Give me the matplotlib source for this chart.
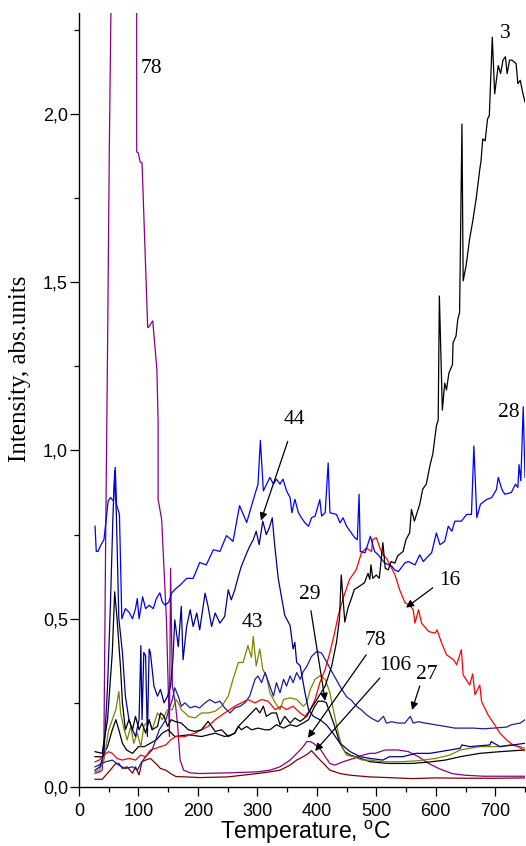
import matplotlib
matplotlib.use('Agg')
import matplotlib.pyplot as plt
from matplotlib.ticker import MultipleLocator, FuncFormatter

plt.rcParams['font.family'] = ['Liberation Sans', 'DejaVu Sans']
plt.rcParams['mathtext.fontset'] = 'custom'
plt.rcParams['mathtext.rm'] = 'Liberation Sans'

# m/z 3 (black)
t_3 = [27, 39, 48, 56, 60, 64, 70, 73, 78, 84, 90, 95, 101, 106, 112, 118, 123, 132, 137, 143, 149, 155,
       161, 172, 184, 195, 206, 217, 223, 229, 240, 251, 262, 268, 279, 290, 298, 304, 310, 315, 324, 332,
       338, 346, 355, 363, 372, 383, 389, 400, 414, 425, 433, 438, 441, 447, 452, 458, 463, 472, 480, 486,
       489, 491, 494, 500, 505, 511, 515, 520, 525, 531, 536, 545, 550, 556, 559, 564, 573, 578, 584, 590,
       595, 601, 604, 606, 611, 615, 618, 622, 628, 629, 634, 637, 640, 644, 646, 651, 657, 662, 668, 674,
       676, 679, 683, 687, 690, 695, 699, 705, 709, 713, 717, 720, 724, 728, 735, 738, 742, 746, 750]
i_3 = [0.105, 0.10, 0.20, 0.40, 0.58, 0.50, 0.35, 0.25, 0.17, 0.20, 0.17, 0.21, 0.17, 0.19, 0.16, 0.20, 0.17,
       0.18, 0.22, 0.21, 0.18, 0.20, 0.195, 0.19, 0.17, 0.165, 0.17, 0.195, 0.18, 0.165, 0.17, 0.15, 0.16,
       0.18, 0.20, 0.22, 0.235, 0.22, 0.24, 0.21, 0.22, 0.22, 0.185, 0.21, 0.19, 0.205, 0.195, 0.21, 0.23,
       0.26, 0.30, 0.36, 0.43, 0.50, 0.63, 0.49, 0.53, 0.56, 0.587, 0.597, 0.607, 0.635, 0.617, 0.66, 0.62,
       0.63, 0.62, 0.726, 0.65, 0.645, 0.67, 0.665, 0.687, 0.70, 0.736, 0.755, 0.825, 0.79, 0.84, 0.885,
       0.90, 0.954, 0.99, 1.073, 1.09, 1.459, 1.12, 1.20, 1.18, 1.23, 1.255, 1.32, 1.34, 1.39, 1.41, 1.97,
       1.504, 1.55, 1.63, 1.68, 1.75, 1.836, 1.86, 1.926, 1.92, 1.985, 1.995, 2.228, 2.06, 2.144, 2.12,
       2.16, 2.17, 2.12, 2.16, 2.16, 2.15, 2.09, 2.10, 2.065, 2.035]

# m/z 29 (black)
t_29 = [27, 39, 48, 56, 62, 67, 73, 80, 90, 100, 110, 120, 130, 140, 150, 161, 184, 206, 229, 245, 256, 262,
        268, 273, 282, 290, 301, 313, 321, 332, 344, 355, 366, 377, 386, 395, 402, 411, 416, 422, 430, 439,
        447, 456, 473, 490, 520, 560, 593, 616, 641, 674, 708, 750]
i_29 = [0.09, 0.09, 0.12, 0.17, 0.20, 0.17, 0.13, 0.11, 0.10, 0.12, 0.12, 0.13, 0.14, 0.16, 0.17, 0.15, 0.155,
        0.15, 0.16, 0.15, 0.155, 0.16, 0.18, 0.17, 0.18, 0.17, 0.175, 0.17, 0.17, 0.185, 0.175, 0.185, 0.18,
        0.19, 0.20, 0.235, 0.255, 0.255, 0.25, 0.22, 0.18, 0.13, 0.105, 0.095, 0.085, 0.075, 0.07, 0.07,
        0.075, 0.08, 0.09, 0.10, 0.105, 0.11]

# m/z 43 (olive)
t_43 = [27, 34, 42, 50, 62, 67, 70, 76, 81, 87, 92, 98, 104, 109, 118, 123, 132, 140, 149, 157, 163, 167, 172,
        184, 195, 206, 217, 229, 240, 251, 259, 268, 276, 284, 290, 293, 298, 304, 309, 315, 321, 330, 338,
        344, 355, 366, 377, 383, 389, 397, 405, 414, 422, 430, 436, 442, 450, 462, 476, 489, 510, 540, 570,
        600, 624, 641, 674, 708, 725, 742, 750]
i_43 = [0.045, 0.05, 0.08, 0.17, 0.23, 0.284, 0.22, 0.17, 0.14, 0.18, 0.13, 0.16, 0.12, 0.18, 0.20, 0.17,
        0.22, 0.20, 0.23, 0.23, 0.26, 0.25, 0.23, 0.21, 0.205, 0.22, 0.22, 0.225, 0.24, 0.27, 0.32, 0.37,
        0.37, 0.42, 0.385, 0.447, 0.36, 0.41, 0.35, 0.33, 0.28, 0.25, 0.23, 0.26, 0.265, 0.26, 0.24, 0.25,
        0.29, 0.32, 0.33, 0.32, 0.28, 0.21, 0.16, 0.12, 0.095, 0.09, 0.08, 0.08, 0.075, 0.075, 0.078, 0.085,
        0.095, 0.11, 0.12, 0.12, 0.125, 0.12, 0.115]

# m/z 16 (red)
t_16 = [27, 34, 42, 50, 56, 64, 73, 84, 95, 104, 112, 120, 129, 137, 146, 154, 163, 178, 195, 217, 229, 245,
        262, 273, 284, 296, 307, 318, 330, 340, 349, 360, 372, 380, 389, 397, 405, 414, 422, 430, 436, 444,
        455, 466, 475, 483, 492, 494, 500, 506, 511, 517, 523, 531, 539, 548, 556, 562, 565, 571, 576, 588,
        599, 602, 610, 618, 630, 635, 643, 646, 657, 662, 666, 674, 677, 688, 697, 708, 719, 730, 739, 747, 750]
i_16 = [0.075, 0.08, 0.095, 0.105, 0.10, 0.085, 0.08, 0.085, 0.08, 0.095, 0.09, 0.11, 0.115, 0.12, 0.125, 0.14,
        0.15, 0.15, 0.16, 0.18, 0.20, 0.22, 0.24, 0.25, 0.26, 0.25, 0.26, 0.255, 0.23, 0.24, 0.23, 0.24, 0.22,
        0.21, 0.23, 0.26, 0.31, 0.35, 0.40, 0.46, 0.51, 0.56, 0.617, 0.645, 0.696, 0.71, 0.70, 0.736, 0.741,
        0.71, 0.69, 0.68, 0.66, 0.632, 0.587, 0.548, 0.54, 0.527, 0.487, 0.527, 0.487, 0.462, 0.457, 0.467,
        0.427, 0.393, 0.378, 0.363, 0.408, 0.333, 0.303, 0.336, 0.274, 0.303, 0.254, 0.214, 0.19, 0.16, 0.14,
        0.125, 0.12, 0.11, 0.11]

# m/z 28 (blue)
t_28 = [27, 29, 32, 37, 42, 49, 53, 58, 61, 63, 68, 72, 78, 84, 90, 95, 98, 101, 107, 112, 118, 125, 130, 136,
        140, 145, 151, 156, 163, 170, 181, 192, 203, 214, 226, 237, 248, 259, 270, 282, 293, 301, 305, 310,
        321, 327, 332, 338, 343, 349, 355, 358, 363, 369, 374, 380, 386, 391, 397, 405, 408, 414, 419, 422,
        433, 439, 444, 450, 458, 464, 468, 471, 473, 481, 490, 497, 503, 514, 526, 531, 537, 548, 554, 565,
        573, 579, 584, 593, 601, 607, 615, 621, 627, 632, 643, 652, 660, 664, 669, 675, 685, 694, 702, 705,
        711, 716, 727, 734, 738, 740, 743, 747, 750]
i_28 = [0.775, 0.70, 0.70, 0.72, 0.735, 0.85, 0.86, 0.85, 0.95, 0.84, 0.81, 0.50, 0.53, 0.52, 0.50, 0.53, 0.56,
        0.50, 0.565, 0.53, 0.54, 0.53, 0.56, 0.577, 0.55, 0.54, 0.55, 0.577, 0.59, 0.60, 0.62, 0.62, 0.667,
        0.66, 0.705, 0.70, 0.747, 0.73, 0.836, 0.786, 0.853, 0.90, 1.03, 0.88, 0.92, 0.90, 0.915, 0.90, 0.915,
        0.88, 0.86, 0.815, 0.855, 0.815, 0.80, 0.785, 0.775, 0.80, 0.805, 0.854, 0.805, 0.815, 0.963, 0.815,
        0.81, 0.785, 0.80, 0.775, 0.755, 0.74, 0.735, 0.87, 0.70, 0.696, 0.745, 0.70, 0.69, 0.666, 0.656,
        0.645, 0.64, 0.666, 0.67, 0.66, 0.69, 0.67, 0.68, 0.696, 0.755, 0.72, 0.73, 0.775, 0.76, 0.79, 0.79,
        0.81, 0.81, 1.013, 0.80, 0.84, 0.854, 0.86, 0.884, 0.92, 0.885, 0.87, 0.875, 0.90, 0.89, 0.958, 0.91,
        1.13, 0.92]

# m/z 44 (navy)
t_44 = [27, 35, 42, 48, 53, 57, 60, 63, 67, 73, 78, 84, 90, 95, 101, 104, 106, 109, 112, 115, 118, 120, 126,
        132, 137, 143, 149, 154, 158, 161, 167, 172, 175, 181, 187, 192, 198, 203, 212, 217, 223, 229, 237,
        245, 251, 256, 262, 268, 273, 282, 287, 293, 298, 303, 309, 315, 320, 325, 329, 335, 340, 346, 352,
        355, 360, 363, 366, 372, 380, 386, 394, 405, 416, 427, 439, 456, 473, 489, 511, 522, 544, 567, 590,
        607, 641, 644, 657, 691, 693, 708, 730, 750]
i_44 = [0.05, 0.06, 0.10, 0.30, 0.55, 0.80, 0.94, 0.80, 0.50, 0.40, 0.27, 0.20, 0.17, 0.15, 0.20, 0.42, 0.20,
        0.40, 0.39, 0.15, 0.41, 0.40, 0.30, 0.27, 0.29, 0.25, 0.27, 0.30, 0.38, 0.497, 0.417, 0.537, 0.378,
        0.477, 0.527, 0.477, 0.517, 0.467, 0.576, 0.537, 0.477, 0.517, 0.487, 0.507, 0.586, 0.556, 0.586,
        0.626, 0.656, 0.695, 0.715, 0.735, 0.76, 0.72, 0.79, 0.75, 0.77, 0.80, 0.72, 0.62, 0.57, 0.51, 0.49,
        0.48, 0.41, 0.43, 0.37, 0.36, 0.28, 0.23, 0.21, 0.20, 0.185, 0.16, 0.13, 0.105, 0.09, 0.085, 0.08,
        0.09, 0.09, 0.10, 0.10, 0.105, 0.115, 0.125, 0.12, 0.125, 0.135, 0.12, 0.125, 0.13]

# m/z 27 (royal blue)
t_27 = [27, 39, 45, 56, 67, 78, 90, 98, 104, 112, 123, 135, 146, 157, 161, 167, 172, 178, 187, 195, 203, 212,
        220, 229, 237, 245, 254, 262, 271, 279, 287, 296, 301, 307, 313, 321, 327, 332, 338, 344, 349, 355,
        360, 366, 372, 377, 383, 391, 400, 408, 416, 425, 433, 441, 450, 458, 467, 475, 484, 492, 503, 512,
        517, 526, 537, 548, 557, 562, 571, 582, 599, 616, 632, 649, 663, 680, 697, 719, 727, 742, 750]
i_27 = [0.06, 0.07, 0.075, 0.08, 0.065, 0.055, 0.06, 0.05, 0.07, 0.09, 0.11, 0.17, 0.20, 0.26, 0.295, 0.27,
        0.24, 0.25, 0.235, 0.24, 0.235, 0.25, 0.26, 0.25, 0.255, 0.235, 0.22, 0.235, 0.24, 0.25, 0.27, 0.32,
        0.33, 0.31, 0.34, 0.30, 0.27, 0.31, 0.28, 0.32, 0.30, 0.33, 0.31, 0.34, 0.32, 0.343, 0.358, 0.388,
        0.403, 0.398, 0.373, 0.343, 0.318, 0.293, 0.268, 0.258, 0.239, 0.229, 0.214, 0.204, 0.194, 0.21,
        0.19, 0.194, 0.19, 0.19, 0.21, 0.19, 0.194, 0.19, 0.185, 0.18, 0.175, 0.175, 0.175, 0.173, 0.175,
        0.178, 0.185, 0.19, 0.20]

# m/z 78 (purple)
t_78 = [27, 35, 39, 42, 45, 48, 51, 55, 97, 97, 99.5, 103, 106, 115.5, 117, 124, 131, 133, 133, 139, 147, 150,
        152, 154, 157, 162, 166, 170, 176, 187, 203, 250, 300, 321, 338, 355, 372, 377, 383, 389, 394, 405,
        414, 422, 430, 444, 462, 478, 489, 498, 515, 537, 554, 571, 588, 605, 627, 649, 680, 750]
i_78 = [0.041, 0.045, 0.05, 0.15, 0.77, 1.3, 1.9, 2.5, 2.5, 1.887, 1.885, 1.857, 1.855, 1.366, 1.366, 1.385,
        1.241, 1.087, 0.855, 0.795, 0.498, 0.30, 0.15, 0.65, 0.30, 0.25, 0.18, 0.08, 0.05, 0.042, 0.04, 0.042,
        0.045, 0.05, 0.06, 0.08, 0.11, 0.12, 0.135, 0.135, 0.13, 0.115, 0.09, 0.07, 0.065, 0.075, 0.085,
        0.095, 0.10, 0.10, 0.11, 0.11, 0.105, 0.09, 0.07, 0.055, 0.04, 0.035, 0.032, 0.032]

# m/z 106 (wine)
t_106 = [27, 39, 50, 62, 67, 73, 81, 90, 95, 101, 106, 112, 120, 129, 137, 146, 154, 163, 180, 203, 250, 300,
         321, 338, 355, 366, 377, 386, 391, 400, 411, 422, 439, 456, 489, 520, 560, 600, 650, 700, 750]
i_106 = [0.023, 0.023, 0.045, 0.07, 0.07, 0.055, 0.06, 0.041, 0.06, 0.036, 0.075, 0.08, 0.085, 0.07, 0.055,
         0.05, 0.04, 0.031, 0.03, 0.028, 0.03, 0.04, 0.045, 0.05, 0.065, 0.08, 0.09, 0.10, 0.108, 0.09, 0.07,
         0.05, 0.04, 0.035, 0.03, 0.028, 0.025, 0.027, 0.026, 0.026, 0.027]

fig = plt.figure(figsize=(5.26, 8.46), dpi=100)
ax = fig.add_axes([79 / 526, 59 / 846, 446 / 526, 774 / 846])

lw = 0.9
ax.plot(t_106, i_106, color='#800000', lw=lw)
ax.plot(t_78, i_78, color='#880088', lw=lw)
ax.plot(t_29, i_29, color='black', lw=lw)
ax.plot(t_43, i_43, color='#808000', lw=lw)
ax.plot(t_27, i_27, color='#1c1caa', lw=lw)
ax.plot(t_16, i_16, color='red', lw=lw)
ax.plot(t_44, i_44, color='#000090', lw=lw)
ax.plot(t_28, i_28, color='blue', lw=lw)
ax.plot(t_3, i_3, color='black', lw=lw)

ax.set_xlim(0, 750)
ax.set_ylim(0, 2.3)
ax.spines['top'].set_visible(False)
ax.spines['right'].set_visible(False)
ax.spines['left'].set_linewidth(1.0)
ax.spines['bottom'].set_linewidth(1.0)
ax.xaxis.set_major_locator(MultipleLocator(100))
ax.xaxis.set_minor_locator(MultipleLocator(50))
ax.yaxis.set_major_locator(MultipleLocator(0.5))
ax.yaxis.set_minor_locator(MultipleLocator(0.25))
ax.yaxis.set_major_formatter(FuncFormatter(lambda v, p: f'{v:.1f}'.replace('.', ',')))
ax.tick_params(which='major', direction='out', length=6.5, width=0.9, labelsize=13)
ax.tick_params(which='minor', direction='out', length=3.6, width=0.9)
ax.tick_params(axis='x', pad=5)
ax.tick_params(axis='y', pad=1.5)

fig.text(306 / 526, 1 - 832 / 846, 'Temperature, $^{\\mathrm{o}}$C', ha='center', va='center', fontsize=16.5)
fig.text(20 / 526, 1 - 369 / 846, 'Intensity, abs.units', rotation=90, ha='center', va='center',
         fontsize=18, family='Liberation Serif')

serif = dict(fontsize=15.5, family='Liberation Serif', ha='center', va='center')
ax.text(121, 2.134, '78', **serif)
ax.text(716, 2.238, '3', **serif)
ax.text(723, 1.113, '28', **serif)
ax.text(291, 0.488, '43', **serif)

notes = [
    ('44', (362, 1.092), (351, 1.027), (306, 0.792)),
    ('29', (388, 0.571), (390, 0.524), (414, 0.256)),
    ('78', (498, 0.435), (483, 0.393), (385, 0.146)),
    ('106', (531, 0.36), (506, 0.324), (397, 0.107)),
    ('27', (585, 0.335), (573, 0.30), (560, 0.229)),
    ('16', (624, 0.613), (595, 0.592), (550, 0.533)),
]
for label, pos, start, tip in notes:
    ax.text(pos[0], pos[1], label, **serif)
    ax.annotate('', xy=tip, xytext=start,
                arrowprops=dict(arrowstyle='-|>', color='black', lw=0.9, mutation_scale=11,
                                shrinkA=0, shrinkB=0))

fig.savefig('out.png', dpi=100)
